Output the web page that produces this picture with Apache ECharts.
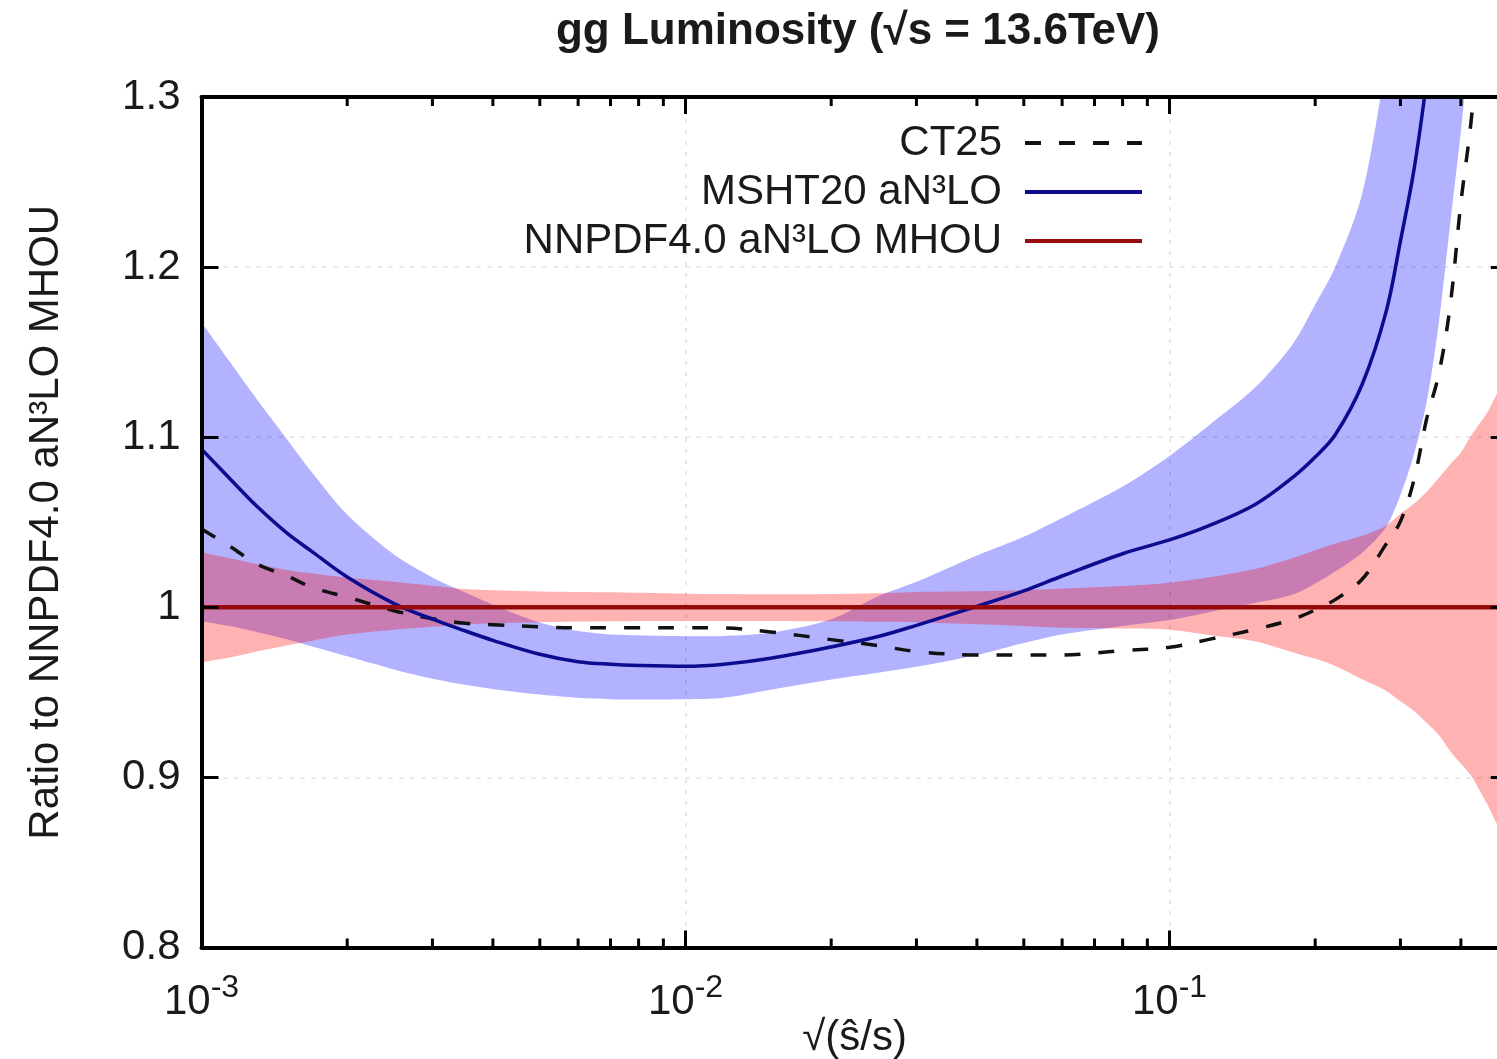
<!DOCTYPE html>
<html>
<head>
<meta charset="utf-8">
<title>gg Luminosity</title>
<script src="https://cdn.jsdelivr.net/npm/echarts@6/dist/echarts.min.js"></script>
<style>
  html, body { margin: 0; padding: 0; background: #fff; }
  #chart { width: 1497px; height: 1059px; }
</style>
</head>
<body>
<div id="chart"></div>
<script>
// sqrt(s-hat / s) sample points shared by every curve
const tau = [0.001, 0.00115, 0.0013, 0.0015, 0.0017, 0.002, 0.0025, 0.003, 0.0035, 0.004,
  0.005, 0.006, 0.007, 0.008, 0.01, 0.012, 0.015, 0.02, 0.025, 0.03,
  0.04, 0.05, 0.06, 0.08, 0.1, 0.12, 0.15, 0.18, 0.2, 0.22,
  0.25, 0.28, 0.3, 0.32, 0.34, 0.36, 0.38, 0.4, 0.42, 0.45, 0.5];

// CT25 ratio (central)
const ct25 = [1.046, 1.0355, 1.0255, 1.0185, 1.0115, 1.006, 0.998, 0.9933, 0.9906, 0.9898,
  0.9885, 0.988, 0.988, 0.988, 0.988, 0.9878, 0.9855, 0.981, 0.9775, 0.974,
  0.972, 0.972, 0.972, 0.9745, 0.9765, 0.981, 0.987, 0.993, 0.9985, 1.0045,
  1.0165, 1.037, 1.0505, 1.075, 1.111, 1.137, 1.177, 1.238, 1.286, 1.38, 1.5];

// MSHT20 aN3LO ratio: central value and uncertainty envelope
const mshtCentral = [1.093, 1.075, 1.0595, 1.0437, 1.0323, 1.0178, 1.0022, 0.993, 0.9862, 0.9806,
  0.9724, 0.968, 0.9665, 0.9658, 0.9653, 0.9665, 0.970, 0.9767, 0.9828, 0.9894,
  1.0006, 1.0097, 1.0184, 1.0315, 1.0396, 1.0477, 1.0603, 1.0765, 1.0883, 1.1014,
  1.131, 1.1734, 1.2153, 1.2573, 1.31, 1.37, 1.43, 1.49, 1.55, 1.64, 1.8];
const mshtUpper = [1.1676, 1.1435, 1.1225, 1.099, 1.0785, 1.0545, 1.031, 1.0175, 1.0088, 1.0015,
  0.991, 0.986, 0.984, 0.9835, 0.983, 0.9832, 0.985, 0.993, 1.0065, 1.015,
  1.0305, 1.0415, 1.0525, 1.071, 1.089, 1.1065, 1.129, 1.155, 1.178, 1.200,
  1.243, 1.32, 1.38, 1.44, 1.50, 1.56, 1.62, 1.68, 1.74, 1.82, 1.95];
const mshtLower = [0.9918, 0.9888, 0.9855, 0.9812, 0.9768, 0.9712, 0.9635, 0.958, 0.9545, 0.952,
  0.9487, 0.9468, 0.946, 0.9458, 0.9459, 0.9468, 0.9515, 0.9575, 0.9615, 0.965,
  0.972, 0.979, 0.984, 0.989, 0.9925, 0.997, 1.0025, 1.0075, 1.014, 1.021,
  1.032, 1.047, 1.066, 1.090, 1.121, 1.167, 1.225, 1.28, 1.34, 1.42, 1.55];

// NNPDF4.0 aN3LO MHOU uncertainty envelope (central ratio is 1 by definition)
const nnpdfUpper = [1.0324, 1.0287, 1.0254, 1.022, 1.0199, 1.0174, 1.015, 1.0127, 1.0107, 1.010,
  1.0093, 1.009, 1.0088, 1.0085, 1.008, 1.0078, 1.0076, 1.0078, 1.0082, 1.009,
  1.0094, 1.010, 1.011, 1.0125, 1.0145, 1.0175, 1.0225, 1.029, 1.0335, 1.0375,
  1.042, 1.048, 1.055, 1.061, 1.068, 1.076, 1.084, 1.091, 1.101, 1.113, 1.134];
const nnpdfLower = [0.9676, 0.9706, 0.974, 0.9776, 0.9805, 0.984, 0.9868, 0.9885, 0.990, 0.9906,
  0.9912, 0.9916, 0.9918, 0.992, 0.992, 0.992, 0.992, 0.9918, 0.9915, 0.9912,
  0.990, 0.989, 0.988, 0.9875, 0.9868, 0.9838, 0.980, 0.9735, 0.9697, 0.9655,
  0.9577, 0.951, 0.9447, 0.939, 0.932, 0.925, 0.9155, 0.908, 0.901, 0.886, 0.864];
const nnpdfX = [0.001, 0.5];
const nnpdfCentral = [1, 1];

// axis ticks
const decadeExponents = [-3, -2, -1];
const minorTicks = [0.002, 0.003, 0.004, 0.005, 0.006, 0.007, 0.008, 0.009,
  0.02, 0.03, 0.04, 0.05, 0.06, 0.07, 0.08, 0.09, 0.2, 0.3, 0.4];
const yTicks = { min: 0.8, max: 1.3, step: 0.1 };

const FONT = "'Liberation Sans', Arial, Helvetica, sans-serif";
const INK = '#1a1a1a';

function zip(xs, ys) { return xs.map((x, i) => [x, ys[i]]); }

// filled envelope between an upper and a lower curve
function bandSeries(name, upper, lower, fill) {
  return {
    type: 'custom',
    name: name,
    silent: true,
    clip: true,
    data: [[tau[0], upper[0]]],
    renderItem: function (params, api) {
      const pts = [];
      for (let i = 0; i < tau.length; i++) pts.push(api.coord([tau[i], upper[i]]));
      for (let i = tau.length - 1; i >= 0; i--) pts.push(api.coord([tau[i], lower[i]]));
      return {
        type: 'polyline',
        shape: { points: pts, smooth: 0.3 },
        style: { fill: fill, stroke: null, lineWidth: 0 }
      };
    }
  };
}

const chart = echarts.init(document.getElementById('chart'), null, { renderer: 'canvas' });

const axisLineStyle = { color: '#000', width: 4 };
const gridDots = { color: 'rgba(0,0,0,0.13)', width: 1.5, type: [4, 7] };
const majorTick = { show: true, inside: true, length: 17, lineStyle: { color: '#000', width: 3 } };

const option = {
  animation: false,
  backgroundColor: '#fff',
  title: {
    text: 'gg Luminosity (\u221As = 13.6TeV)',
    left: 855,
    top: 7,
    padding: 3,
    textAlign: 'center',
    textStyle: { fontFamily: FONT, fontSize: 44, fontWeight: 'bold', color: INK }
  },
  legend: {
    data: ['CT25', 'MSHT20 aN\u00B3LO', 'NNPDF4.0 aN\u00B3LO MHOU'],
    orient: 'vertical',
    align: 'right',
    left: 502,
    top: 122,
    padding: 0,
    itemWidth: 117,
    itemHeight: 2,
    itemGap: 7,
    selectedMode: false,
    itemStyle: { opacity: 0 },
    lineStyle: { width: 4 },
    textStyle: {
      fontFamily: FONT, fontSize: 42, color: INK,
      width: 500, lineHeight: 40, padding: [0, 18, 0, 0]
    }
  },
  // plot area continues a little past the right edge of the canvas
  grid: {
    left: 201.5, top: 97, width: 1306.3, height: 850.5,
    show: false, containLabel: false, outerBoundsMode: 'none'
  },
  xAxis: [
    {
      type: 'log', logBase: 10, min: 0.001, max: 0.5, position: 'bottom', z: 10,
      name: '\u221A(\u015D/s)', nameLocation: 'middle', nameGap: 70, nameMoveOverlap: false,
      nameTextStyle: { fontFamily: FONT, fontSize: 42, color: INK },
      axisLine: { show: true, lineStyle: axisLineStyle },
      axisTick: majorTick,
      minorTick: { show: false },
      splitLine: { show: true, lineStyle: gridDots },
      axisLabel: {
        margin: 25,
        formatter: function (v) {
          const e = Math.round(Math.log10(v));
          if (decadeExponents.indexOf(e) < 0 || Math.abs(v / Math.pow(10, e) - 1) > 1e-6) return '';
          return '{b|10}{s|' + e + '}';
        },
        rich: {
          b: { fontFamily: FONT, fontSize: 42, lineHeight: 60, color: INK },
          s: { fontFamily: FONT, fontSize: 32, lineHeight: 32, verticalAlign: 'top', color: INK }
        }
      }
    },
    {
      type: 'log', logBase: 10, min: 0.001, max: 0.5, position: 'top', z: 10,
      axisLine: { show: true, lineStyle: axisLineStyle },
      axisTick: majorTick,
      axisLabel: { show: false },
      splitLine: { show: false }
    }
  ],
  yAxis: [
    {
      type: 'value', min: yTicks.min, max: yTicks.max, interval: yTicks.step, position: 'left', z: 10,
      name: 'Ratio to NNPDF4.0 aN\u00B3LO MHOU', nameLocation: 'middle', nameGap: 134, nameRotate: 90,
      nameMoveOverlap: false,
      nameTextStyle: { fontFamily: FONT, fontSize: 42, color: INK },
      axisLine: { show: true, lineStyle: axisLineStyle },
      axisTick: majorTick,
      splitLine: { show: true, lineStyle: gridDots },
      axisLabel: { margin: 21, fontFamily: FONT, fontSize: 42, color: INK }
    },
    {
      type: 'value', min: yTicks.min, max: yTicks.max, interval: yTicks.step, position: 'right', z: 10,
      axisLine: { show: true, lineStyle: axisLineStyle },
      axisTick: majorTick,
      axisLabel: { show: false },
      splitLine: { show: false }
    }
  ],
  series: [
    {
      name: 'CT25', type: 'line', data: zip(tau, ct25), smooth: 0.35,
      symbol: 'none', silent: true,
      lineStyle: { color: '#111', width: 3.5, type: [16, 18] },
      itemStyle: { color: '#111' }
    },
    bandSeries('MSHT20 band', mshtUpper, mshtLower, 'rgba(0,0,255,0.3)'),
    {
      name: 'MSHT20 aN\u00B3LO', type: 'line', data: zip(tau, mshtCentral), smooth: 0.35,
      symbol: 'none', silent: true,
      lineStyle: { color: '#0c0c8f', width: 3.5 },
      itemStyle: { color: '#0c0c8f' }
    },
    bandSeries('NNPDF band', nnpdfUpper, nnpdfLower, 'rgba(255,0,0,0.3)'),
    {
      name: 'NNPDF4.0 aN\u00B3LO MHOU', type: 'line', data: zip(nnpdfX, nnpdfCentral),
      symbol: 'none', silent: true,
      lineStyle: { color: '#960c0c', width: 4.5 },
      itemStyle: { color: '#960c0c' }
    },
    {
      // minor log ticks on the bottom and top frame
      name: 'minor ticks', type: 'custom', silent: true, z: 10,
      data: minorTicks.map(v => [v, 1]),
      renderItem: function (params, api) {
        const x = api.coord([api.value(0), 1])[0];
        const cs = params.coordSys;
        const yb = cs.y + cs.height, yt = cs.y;
        const st = { stroke: '#000', lineWidth: 3 };
        return {
          type: 'group',
          children: [
            { type: 'line', shape: { x1: x, y1: yb, x2: x, y2: yb - 9 }, style: st },
            { type: 'line', shape: { x1: x, y1: yt, x2: x, y2: yt + 9 }, style: st }
          ]
        };
      }
    }
  ]
};

chart.setOption(option);
</script>
</body>
</html>
